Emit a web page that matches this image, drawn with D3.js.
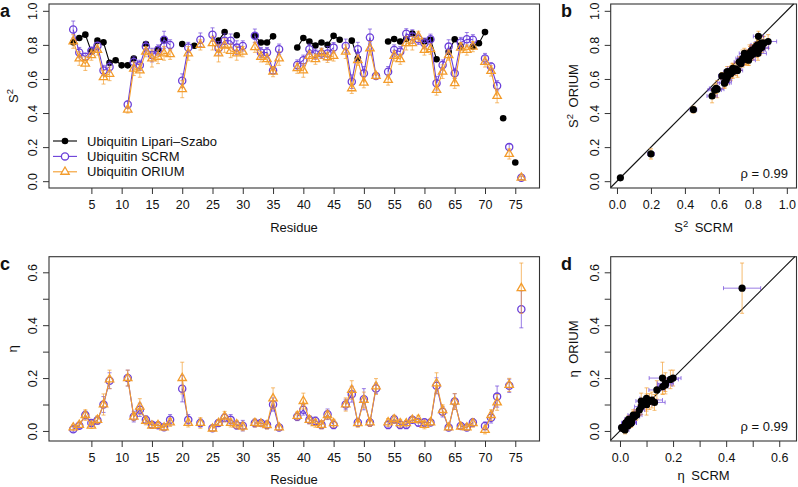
<!DOCTYPE html>
<html><head><meta charset="utf-8">
<script src="https://cdn.jsdelivr.net/npm/d3@7"></script>
<style>
body{margin:0;background:#fff}
svg{display:block}
text{font-family:"Liberation Sans",Arial,Helvetica,sans-serif;fill:#111}
</style>
</head><body>
<svg id="chart" width="798" height="487"></svg>
<script>
// ---------------- DATA (index 0 = residue 1; null = no value) ----------------
const residues = d3.range(1, 77);

const s2LipariSzabo = [null,0.815,0.84,0.86,0.76,0.825,0.815,0.695,0.71,0.68,
  0.68,0.72,null,0.805,null,0.775,0.83,null,null,0.805,
  null,0.795,null,null,null,0.825,0.875,null,0.857,null,
  null,0.853,0.814,0.814,0.85,null,null,null,0.785,0.84,
  0.82,0.796,0.814,0.80,0.853,0.83,null,0.825,0.72,null,
  null,null,null,0.82,0.835,0.82,0.835,0.866,null,0.82,
  0.83,0.716,null,0.76,0.833,0.79,null,0.79,0.81,0.875,
  null,null,0.369,null,0.11,null];

const s2SCRM = [null,0.89,0.755,0.73,0.765,0.795,0.65,0.67,null,null,
  0.45,0.70,0.68,0.79,0.74,0.77,0.83,0.80,null,0.59,
  0.785,null,0.83,null,0.86,0.78,0.825,0.824,0.784,0.794,
  null,0.853,0.755,0.755,0.649,0.775,null,null,0.682,0.71,
  0.775,0.745,0.75,0.75,0.784,null,0.794,0.584,0.775,0.633,
  0.843,0.618,null,0.643,0.77,0.76,0.865,0.849,0.833,0.81,
  0.833,0.575,0.682,0.79,0.633,0.814,0.833,0.83,null,0.72,
  0.673,0.56,null,0.20,null,0.02];

const s2ORIUM = [null,0.82,0.72,0.69,0.74,0.77,0.61,0.63,null,null,
  0.42,0.66,0.65,0.76,0.72,0.73,0.75,0.745,null,0.54,
  0.75,null,0.80,null,0.81,0.75,0.796,0.765,0.75,0.76,
  null,0.786,0.73,0.716,0.643,0.72,null,null,0.663,0.65,
  0.735,0.716,0.75,0.727,0.735,null,0.76,0.545,0.71,0.578,
  0.78,0.618,null,0.594,0.735,0.716,0.81,0.81,0.85,0.77,
  0.775,0.535,0.643,0.74,0.575,0.784,0.77,0.79,null,0.70,
  0.647,0.50,null,0.16,null,0.02];

const s2SCRMerr = [null,0.05,0.03,0.02,0.02,0.02,0.03,0.03,null,null,
  0.02,0.03,0.03,0.03,0.04,0.03,0.05,0.03,null,0.04,
  0.03,null,0.04,null,0.04,0.04,0.04,0.04,0.04,0.03,
  null,0.04,0.03,0.03,0.02,0.03,null,null,0.03,0.03,
  0.03,0.03,0.03,0.04,0.03,null,0.04,0.04,0.04,0.04,
  0.05,0.02,null,0.03,0.03,0.03,0.03,0.04,0.03,0.03,
  0.03,0.04,0.03,0.04,0.03,0.03,0.04,0.03,null,0.03,
  0.02,0.03,null,0.02,null,0.01];

const s2ORIUMerr = [null,0.04,0.04,0.04,0.03,0.03,0.04,0.04,null,null,
  0.02,0.04,0.04,0.03,0.05,0.04,0.04,0.03,null,0.05,
  0.04,null,0.03,null,0.04,0.05,0.04,0.04,0.04,0.03,
  null,0.03,0.03,0.03,0.03,0.04,null,null,0.03,0.04,
  0.03,0.03,0.03,0.03,0.03,null,0.04,0.03,0.03,0.03,
  0.04,0.02,null,0.03,0.03,0.03,0.04,0.04,0.03,0.03,
  0.03,0.03,0.04,0.03,0.03,0.03,0.03,0.03,null,0.03,
  0.03,0.04,null,0.03,null,0.01];

const etaSCRM = [null,0.006,0.02,0.06,0.03,0.04,0.10,0.19,null,null,
  0.20,0.054,0.08,0.042,0.023,0.022,0.014,0.042,null,0.16,
  0.042,null,0.03,null,0.01,0.03,0.05,0.042,0.022,0.02,
  null,0.03,0.03,0.023,0.10,0.013,null,null,0.054,0.08,
  0.042,0.038,0.023,0.063,0.023,null,0.10,0.139,0.032,0.12,
  0.032,0.161,null,0.023,0.044,0.023,0.023,0.042,0.032,0.032,
  0.032,0.171,0.073,0.013,0.111,0.019,0.013,0.032,null,0.019,
  0.05,0.13,null,0.171,null,0.46];

const etaORIUM = [null,0.013,0.023,0.06,0.02,0.042,0.10,0.195,null,null,
  0.20,0.054,0.092,0.038,0.02,0.022,0.013,0.032,null,0.20,
  0.03,null,0.03,null,0.009,0.03,0.054,0.03,0.025,0.016,
  null,0.03,0.028,0.022,0.123,0.013,null,null,0.057,0.113,
  0.042,0.029,0.023,0.06,0.029,null,0.10,0.155,0.029,0.117,
  0.032,0.168,null,0.032,0.044,0.029,0.029,0.042,0.044,0.023,
  0.032,0.18,0.079,0.013,0.111,0.016,0.013,0.029,null,0.004,
  0.06,0.108,null,0.174,null,0.54];

const etaSCRMerr = [null,0.01,0.01,0.015,0.01,0.015,0.03,0.03,null,null,
  0.03,0.02,0.025,0.015,0.01,0.01,0.01,0.02,null,0.05,
  0.02,null,0.015,null,0.01,0.01,0.015,0.02,0.015,0.02,
  null,0.015,0.01,0.015,0.025,0.01,null,null,0.015,0.02,
  0.015,0.015,0.015,0.02,0.015,null,0.02,0.03,0.015,0.04,
  0.015,0.02,null,0.015,0.015,0.015,0.015,0.01,0.015,0.015,
  0.01,0.03,0.02,0.01,0.03,0.01,0.01,0.015,null,0.015,
  0.02,0.04,null,0.025,null,0.07];

const etaORIUMerr = [null,0.01,0.01,0.02,0.01,0.015,0.04,0.035,null,null,
  0.03,0.015,0.03,0.015,0.01,0.01,0.01,0.015,null,0.06,
  0.015,null,0.02,null,0.01,0.01,0.02,0.015,0.015,0.015,
  null,0.015,0.01,0.015,0.04,0.01,null,null,0.015,0.03,
  0.015,0.015,0.015,0.015,0.015,null,0.025,0.035,0.015,0.03,
  0.015,0.03,null,0.015,0.015,0.015,0.01,0.01,0.015,0.015,
  0.01,0.04,0.02,0.01,0.03,0.01,0.01,0.015,null,0.015,
  0.02,0.03,null,0.025,null,0.095];

const residueTicks = [5,10,15,20,25,30,35,40,45,50,55,60,65,70,75];
const s2Ticks = [0,0.2,0.4,0.6,0.8,1.0];
const etaTicks = [0,0.1,0.2,0.3,0.4,0.5,0.6];
const etaTickLabels = ["0.0","","0.2","","0.4","","0.6"];
const legendLabels = ["Ubiquitin Lipari\u2013Szabo","Ubiquitin SCRM","Ubiquitin ORIUM"];
const panelLetters = ["a","b","c","d"];
const rhoS2 = 0.99, rhoEta = 0.99;

// ---------------- STYLE ----------------
const PURPLE = "#6a3fd9", ORANGE = "#f39c2c", AXIS = "#333";
const FONT = 13, TICKFONT = 12.5;

const svg = d3.select("#chart");
svg.append("rect").attr("width", 798).attr("height", 487).attr("fill", "#fff");

function panel(o) {
  const x = d3.scaleLinear().domain(o.xDom).range([o.l, o.r]);
  const y = d3.scaleLinear().domain(o.yDom).range([o.b, o.t]);
  const g = svg.append("g");
  const xa = g.append("g").attr("transform", `translate(0,${o.b})`)
    .call(d3.axisBottom(x).tickValues(o.xTicks).tickSize(6).tickPadding(6.5)
      .tickFormat((d, i) => o.xFmt(d, i)));
  xa.select(".domain").remove();
  xa.selectAll(".tick line").attr("stroke", AXIS);
  xa.selectAll(".tick text").style("font-size", TICKFONT + "px")
    .style("font-family", '"Liberation Sans",Arial,sans-serif').attr("fill", "#111");
  const ya = g.append("g").attr("transform", `translate(${o.l},0)`)
    .call(d3.axisLeft(y).tickValues(o.yTicks).tickSize(6)
      .tickFormat((d, i) => o.yFmt(d, i)));
  ya.select(".domain").remove();
  ya.selectAll(".tick line").attr("stroke", AXIS);
  ya.selectAll(".tick text").attr("x", null).attr("dy", "0.35em")
    .attr("text-anchor", "middle").attr("transform", "translate(-16,0) rotate(-90)")
    .style("font-size", TICKFONT + "px")
    .style("font-family", '"Liberation Sans",Arial,sans-serif').attr("fill", "#111");
  g.append("rect").attr("x", o.l).attr("y", o.t).attr("width", o.r - o.l)
    .attr("height", o.b - o.t).attr("fill", "none").attr("stroke", AXIS).attr("stroke-width", 1.1);
  return { x, y, g };
}

function title(x, y, rotate, parts) {
  const t = svg.append("text").attr("text-anchor", "middle")
    .attr("transform", `translate(${x},${y})` + (rotate ? " rotate(-90)" : ""))
    .attr("dy", "0.35em").style("font-size", FONT + "px");
  parts.forEach(p => {
    const s = t.append("tspan").text(p.t);
    if (p.sup) s.attr("dy", "-5").style("font-size", "9.5px");
    if (p.down) s.attr("dy", "5");
  });
  return t;
}

function trianglePath(cx, cy, s) {
  return `M${cx},${cy - s * 1.15}L${cx + s},${cy + s * 0.58}L${cx - s},${cy + s * 0.58}Z`;
}

function seriesPlot(P, vals, errs, color, shape, clip) {
  const pts = residues.map((r, i) => ({ r, v: vals[i], e: errs ? errs[i] : null }));
  const ok = pts.filter(d => d.v !== null);
  const layer = P.g.append("g").attr("clip-path", clip);
  if (errs) {
    ok.forEach(d => {
      const x = P.x(d.r), y0 = P.y(d.v - d.e), y1 = P.y(d.v + d.e);
      layer.append("line").attr("x1", x).attr("x2", x).attr("y1", y0).attr("y2", y1)
        .attr("stroke", color).attr("stroke-width", 0.9).attr("opacity", 0.75);
      [y0, y1].forEach(yy => layer.append("line").attr("x1", x - 2).attr("x2", x + 2)
        .attr("y1", yy).attr("y2", yy).attr("stroke", color).attr("stroke-width", 0.9).attr("opacity", 0.75));
    });
  }
  const line = d3.line().defined(d => d.v !== null).x(d => P.x(d.r)).y(d => P.y(d.v));
  layer.append("path").attr("d", line(pts)).attr("fill", "none")
    .attr("stroke", color).attr("stroke-width", 1.1);
  ok.forEach(d => {
    const cx = P.x(d.r), cy = P.y(d.v);
    if (shape === "dot") layer.append("circle").attr("cx", cx).attr("cy", cy).attr("r", 3.3).attr("fill", color);
    else if (shape === "circle") layer.append("circle").attr("cx", cx).attr("cy", cy).attr("r", 3.6)
      .attr("fill", "none").attr("stroke", color).attr("stroke-width", 1.3);
    else layer.append("path").attr("d", trianglePath(cx, cy, 4.2)).attr("fill", "none")
      .attr("stroke", color).attr("stroke-width", 1.3);
  });
}

function scatterPlot(P, xs, ys, xe, ye) {
  const pts = residues.map((r, i) => ({ x: xs[i], y: ys[i], xe: xe[i], ye: ye[i] }))
    .filter(d => d.x !== null && d.y !== null);
  const t0 = Math.max(P.x.domain()[0], P.y.domain()[0]);
  const t1 = Math.min(P.x.domain()[1], P.y.domain()[1]);
  P.g.append("line").attr("x1", P.x(t0)).attr("y1", P.y(t0)).attr("x2", P.x(t1)).attr("y2", P.y(t1))
    .attr("stroke", "#111").attr("stroke-width", 1.1);
  pts.forEach(d => {
    const cx = P.x(d.x), cy = P.y(d.y);
    const xa = P.x(d.x - d.xe), xb = P.x(d.x + d.xe);
    P.g.append("line").attr("x1", xa).attr("x2", xb).attr("y1", cy).attr("y2", cy)
      .attr("stroke", PURPLE).attr("stroke-width", 0.9).attr("opacity", 0.75);
    [xa, xb].forEach(xx => P.g.append("line").attr("x1", xx).attr("x2", xx).attr("y1", cy - 2).attr("y2", cy + 2)
      .attr("stroke", PURPLE).attr("stroke-width", 0.9).attr("opacity", 0.75));
    const ya = P.y(d.y - d.ye), yb = P.y(d.y + d.ye);
    P.g.append("line").attr("x1", cx).attr("x2", cx).attr("y1", ya).attr("y2", yb)
      .attr("stroke", ORANGE).attr("stroke-width", 0.9).attr("opacity", 0.75);
    [ya, yb].forEach(yy => P.g.append("line").attr("x1", cx - 2).attr("x2", cx + 2).attr("y1", yy).attr("y2", yy)
      .attr("stroke", ORANGE).attr("stroke-width", 0.9).attr("opacity", 0.75));
  });
  pts.forEach(d => P.g.append("circle").attr("cx", P.x(d.x)).attr("cy", P.y(d.y)).attr("r", 3.6).attr("fill", "#000"));
}

const f1 = d => d3.format(".1f")(d);
const etaFmt = (d, i) => etaTickLabels[i];

// ---------------- PANEL A ----------------
const A = panel({ l: 49, r: 539.5, t: 4, b: 188, xDom: [-2, 79], yDom: [-0.04, 1.04],
  xTicks: residueTicks, yTicks: s2Ticks, xFmt: d => d, yFmt: f1 });
svg.append("clipPath").attr("id", "clipA").append("rect").attr("x", 49).attr("y", 4).attr("width", 490.5).attr("height", 184);
seriesPlot(A, s2LipariSzabo, null, "#000", "dot", "url(#clipA)");
seriesPlot(A, s2SCRM, s2SCRMerr, PURPLE, "circle", "url(#clipA)");
seriesPlot(A, s2ORIUM, s2ORIUMerr, ORANGE, "triangle", "url(#clipA)");
const legColors = ["#000", PURPLE, ORANGE], legShapes = ["dot", "circle", "triangle"];
legendLabels.forEach((lab, i) => {
  const yy = 141 + i * 15.4;
  svg.append("line").attr("x1", 53).attr("x2", 77).attr("y1", yy).attr("y2", yy)
    .attr("stroke", legColors[i]).attr("stroke-width", 1.1);
  if (legShapes[i] === "dot") svg.append("circle").attr("cx", 65).attr("cy", yy).attr("r", 3.3).attr("fill", "#000");
  else if (legShapes[i] === "circle") svg.append("circle").attr("cx", 65).attr("cy", yy).attr("r", 3.6)
    .attr("fill", "#fff").attr("stroke", PURPLE).attr("stroke-width", 1.3);
  else svg.append("path").attr("d", trianglePath(65, yy, 4.2)).attr("fill", "#fff")
    .attr("stroke", ORANGE).attr("stroke-width", 1.3);
  svg.append("text").attr("x", 87).attr("y", yy).attr("dy", "0.35em").style("font-size", FONT + "px").text(lab);
});
title(13, 96, true, [{ t: "S" }, { t: "2", sup: true }]);
title(294, 227, false, [{ t: "Residue" }]);

// ---------------- PANEL B ----------------
const B = panel({ l: 610.7, r: 796.5, t: 4, b: 188, xDom: [-0.037, 1.057], yDom: [-0.04, 1.04],
  xTicks: s2Ticks, yTicks: s2Ticks, xFmt: f1, yFmt: f1 });
scatterPlot(B, s2SCRM, s2ORIUM, s2SCRMerr, s2ORIUMerr);
svg.append("text").attr("x", 788).attr("y", 173).attr("dy", "0.35em").attr("text-anchor", "end")
  .style("font-size", FONT + "px").text("\u03c1 = " + rhoS2.toFixed(2));
title(573, 96, true, [{ t: "S" }, { t: "2", sup: true }, { t: "\u2002ORIUM", down: true }]);
title(703.6, 227, false, [{ t: "S" }, { t: "2", sup: true }, { t: "\u2002SCRM", down: true }]);

// ---------------- PANEL C ----------------
const C = panel({ l: 49, r: 539.5, t: 256.7, b: 441, xDom: [-2, 79], yDom: [-0.038, 0.659],
  xTicks: residueTicks, yTicks: etaTicks, xFmt: d => d, yFmt: etaFmt });
svg.append("clipPath").attr("id", "clipC").append("rect").attr("x", 49).attr("y", 256.7).attr("width", 490.5).attr("height", 184.3);
seriesPlot(C, etaSCRM, etaSCRMerr, PURPLE, "circle", "url(#clipC)");
seriesPlot(C, etaORIUM, etaORIUMerr, ORANGE, "triangle", "url(#clipC)");
title(12, 349, true, [{ t: "\u03b7" }]);
title(294, 479, false, [{ t: "Residue" }]);

// ---------------- PANEL D ----------------
const D = panel({ l: 610.7, r: 796.5, t: 256.7, b: 441, xDom: [-0.035, 0.665], yDom: [-0.038, 0.659],
  xTicks: etaTicks, yTicks: etaTicks, xFmt: etaFmt, yFmt: etaFmt });
scatterPlot(D, etaSCRM, etaORIUM, etaSCRMerr, etaORIUMerr);
svg.append("text").attr("x", 788).attr("y", 426).attr("dy", "0.35em").attr("text-anchor", "end")
  .style("font-size", FONT + "px").text("\u03c1 = " + rhoEta.toFixed(2));
title(573, 349, true, [{ t: "\u03b7\u2002ORIUM" }]);
title(703.6, 475, false, [{ t: "\u03b7\u2002SCRM" }]);

[[0, 17], [561, 17], [0, 270], [561, 270]].forEach((p, i) => {
  svg.append("text").attr("x", p[0]).attr("y", p[1]).style("font-size", "18px")
    .style("font-weight", "bold").text(panelLetters[i]);
});
</script>
</body></html>
